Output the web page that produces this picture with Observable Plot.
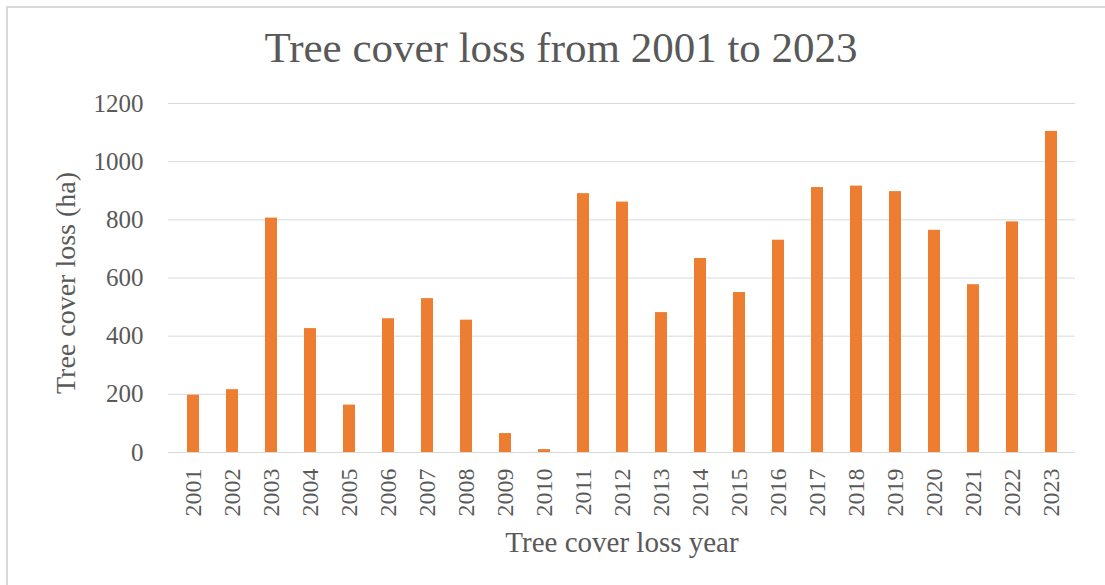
<!DOCTYPE html>
<html>
<head>
<meta charset="utf-8">
<script src="https://cdn.jsdelivr.net/npm/d3@7"></script>
<script src="https://cdn.jsdelivr.net/npm/@observablehq/plot@0.6"></script>
<style>
  html, body { margin: 0; padding: 0; background: #fff; }
  #chart { position: relative; width: 1105px; height: 585px; overflow: hidden; }
  #frame { position: absolute; left: 6px; top: 6px; right: -10px; bottom: -10px;
           border-left: 2px solid #d9d9d9; border-top: 2px solid #d9d9d9; }
  #chart svg { position: absolute; left: 0; top: 0; }
</style>
</head>
<body>
<div id="chart"><div id="frame"></div></div>
<script>
// Annual tree cover loss, hectares
const years = [2001, 2002, 2003, 2004, 2005, 2006, 2007, 2008, 2009, 2010, 2011, 2012,
               2013, 2014, 2015, 2016, 2017, 2018, 2019, 2020, 2021, 2022, 2023];
const loss = [197, 216, 806, 426, 163, 460, 529, 455, 65, 10, 890, 861,
              481, 667, 550, 730, 911, 916, 897, 764, 577, 793, 1104];
const yTicks = [0, 200, 400, 600, 800, 1000, 1200];

const chartTitle = "Tree cover loss from 2001 to 2023";
const xTitle = "Tree cover loss year";
const yTitle = "Tree cover loss (ha)";

const rows = years.map((year, i) => ({year: String(year), loss: loss[i]}));

const textColor = "#595959";
const serif = "'Liberation Serif', 'Times New Roman', Times, serif";

const chart = Plot.plot({
  width: 1105,
  height: 585,
  marginLeft: 168,
  marginRight: 30,
  marginTop: 103,
  marginBottom: 133,
  style: {fontFamily: serif, background: "transparent", color: textColor, overflow: "visible"},
  x: {domain: years.map(String), paddingInner: 0.7, paddingOuter: 0.305, label: null},
  y: {domain: [0, 1200], ticks: yTicks, label: null},
  marks: [
    Plot.gridY(yTicks, {stroke: "#d9d9d9", strokeOpacity: 1, strokeWidth: 1}),
    Plot.barY(rows, {x: "year", y: "loss", fill: "#ed7d31"}),
    Plot.axisY(yTicks, {tickSize: 0, tickPadding: 25, fontSize: 25, fill: textColor,
                        tickFormat: d => String(d), label: null}),
    Plot.axisX({tickSize: 0, tickRotate: -90, tickPadding: 16, fontSize: 24, fill: textColor, label: null}),
    Plot.text([chartTitle], {frameAnchor: "top", dx: -61, dy: -55, fontSize: 43,
                             fill: textColor, lineAnchor: "middle", textAnchor: "middle"}),
    Plot.text([xTitle], {frameAnchor: "bottom", dx: 0, dy: 90, fontSize: 29,
                         fill: textColor, lineAnchor: "middle", textAnchor: "middle"}),
    Plot.text([yTitle], {frameAnchor: "left", dx: -102, dy: 5, rotate: -90, fontSize: 28,
                         fill: textColor, lineAnchor: "middle", textAnchor: "middle"})
  ]
});

document.getElementById("chart").appendChild(chart);
</script>
</body>
</html>
